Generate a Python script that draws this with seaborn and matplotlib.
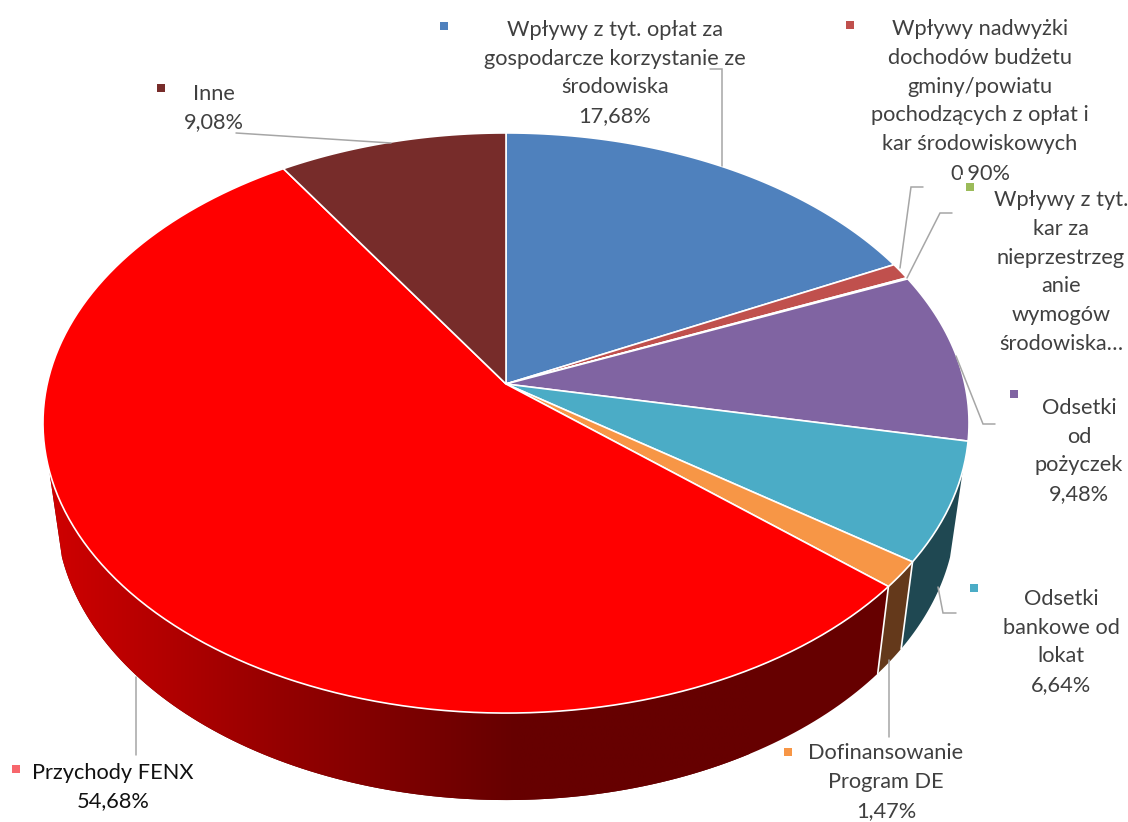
import numpy as np
import matplotlib
matplotlib.use("Agg")
import matplotlib.pyplot as plt
import seaborn as sns
from matplotlib.colors import ListedColormap
from matplotlib.path import Path
from matplotlib.patches import Polygon, Rectangle
from matplotlib.transforms import Affine2D, Transform

categories = [
    "Wpływy z tyt. opłat za\ngospodarcze korzystanie ze\nśrodowiska\n17,68%",
    "Wpływy nadwyżki\ndochodów budżetu\ngminy/powiatu\npochodzących z opłat i\nkar środowiskowych\n0,90%",
    "Wpływy z tyt.\nkar za\nnieprzestrzeg\nanie\nwymogów\nśrodowiska…",
    "Odsetki\nod\npożyczek\n9,48%",
    "Odsetki\nbankowe od\nlokat\n6,64%",
    "Dofinansowanie\nProgram DE\n1,47%",
    "Przychody FENX\n54,68%",
    "Inne\n9,08%",
]
values = [17.68, 0.90, 0.07, 9.48, 6.64, 1.47, 54.68, 9.08]
top_colors = ["#4F81BD", "#C0504D", "#9BBB59", "#8064A2", "#4BACC6", "#F79646", "#FF0000", "#772C2A"]
side_colors = {4: "#1F4852", 5: "#64391B"}

# label centre, legend key and leader line for each slice, in pixels
label_xy = [(615, 73), (980, 101), (1061, 272), (1079, 451), (1061, 642), (886, 782), (113, 787), (214, 108)]
key_xy = [(444, 26), (850, 25), (970, 187), (1014, 394), (974, 588), (788, 752), (16, 769), (161, 88)]
key_colors = ["#4F81BD", "#C0504D", "#9BBB59", "#8064A2", "#4BACC6", "#F79646", "#F7666C", "#772C2A"]
leaders = [
    [(710, 69), (722, 69), (722, 166)],
    [(923, 187), (911, 187), (900, 268)],
    [(952, 213), (940, 213), (907, 278)],
    [(995, 424), (983, 424), (956, 356)],
    [(956, 613), (943, 613), (938, 587)],
    [(889, 660), (889, 737)],
    [(136, 677), (136, 755)],
    [(236, 133), (391, 143)],
]

CX, CY = 506, 384
A, B, P = 284.8, 458.8, 0.1345  # perspective of the pie disc
DEPTH = 87
BOTTOM_SCALE = 0.972


def project(u, v):
    den = 1 + P * v
    return CX + B * u / den, CY - A * v / den


class TiltTransform(Transform):
    input_dims = output_dims = 2
    is_separable = False
    has_inverse = False

    def transform_non_affine(self, xy):
        x, y = project(xy[:, 0], xy[:, 1])
        return np.column_stack([x, y])

    def transform_path_non_affine(self, path):
        # flatten the arcs first, the projection does not keep beziers
        polys = path.transformed(Affine2D().scale(2000)).to_polygons(closed_only=True)
        return Path(self.transform_non_affine(polys[0] / 2000), closed=True)


def rim(angle_deg):
    a = np.radians(angle_deg)
    return project(np.sin(a), np.cos(a))


def wall_outline(start, stop):
    angles = np.linspace(start, stop, 120)
    x, y = rim(angles)
    top = np.column_stack([x, y])
    bottom = np.column_stack([CX + (x - CX) * BOTTOM_SCALE, y + DEPTH])
    return np.vstack([top, bottom[::-1]])


sns.set_theme(style="white")
plt.rcParams["font.family"] = ["Lato", "DejaVu Sans"]

fig = plt.figure(figsize=(11.28, 8.22), dpi=100)
ax = fig.add_axes([0, 0, 1, 1])

wedges, _ = ax.pie(values, colors=top_colors, startangle=90, counterclock=False,
                   wedgeprops={"edgecolor": "white", "linewidth": 1.2, "zorder": 2})
tilt = TiltTransform()
for w in wedges:
    w.set_transform(tilt + ax.transData)

# side wall of the pie
edges = np.cumsum([0] + values) * 3.6
wall_from, wall_to = 106.9, 253.1
red_shades = ListedColormap(sns.blend_palette(["#CF0000", "#940000", "#660000", "#660000"], 256))

for i in range(len(values)):
    start = max(edges[i], wall_from)
    stop = min(edges[i + 1], wall_to)
    if start >= stop:
        continue
    outline = wall_outline(start, stop)
    if i == 6:
        patch = Polygon(outline, closed=True, facecolor="none", edgecolor="none", zorder=1)
        ax.add_patch(patch)
        img = ax.imshow(np.linspace(0, 1, 256).reshape(1, -1), cmap=red_shades, extent=(50, 750, 810, 450),
                        aspect="auto", zorder=1, interpolation="bilinear")
        # gradient stops at the right end of the range, so fill under it first
        ax.add_patch(Polygon(outline, closed=True, facecolor="#660000", edgecolor="none", zorder=0.9))
        img.set_clip_path(patch)
    else:
        ax.add_patch(Polygon(outline, closed=True, facecolor=side_colors[i], edgecolor="none", zorder=1))

# white seams on the wall
for angle in edges[5:7]:
    seam = wall_outline(angle, angle)
    ax.plot([seam[0, 0], seam[-1, 0]], [seam[0, 1], seam[-1, 1]], color="white", lw=1.2, zorder=1.5)

ax.set_aspect("auto")
ax.set_xlim(0, 1128)
ax.set_ylim(822, 0)
ax.axis("off")

for pts in leaders:
    xs, ys = zip(*pts)
    ax.plot(xs, ys, color="#A6A6A6", lw=1.1, zorder=3, solid_joinstyle="miter")

for i, name in enumerate(categories):
    color = "#111111" if i == 6 else "#404040"
    ax.text(label_xy[i][0], label_xy[i][1], name, ha="center", va="center", multialignment="center",
            fontsize=15.7, linespacing=1.54, color=color, zorder=4)
    ax.scatter(*key_xy[i], marker="s", s=32, color=key_colors[i], linewidths=0, zorder=5)

# the box of the neighbouring label hides the comma of 0,90%
ax.add_patch(Rectangle((961, 175), 6.5, 15, facecolor="white", edgecolor="none", zorder=4.5))

fig.savefig("out.png", dpi=100, facecolor="white")
